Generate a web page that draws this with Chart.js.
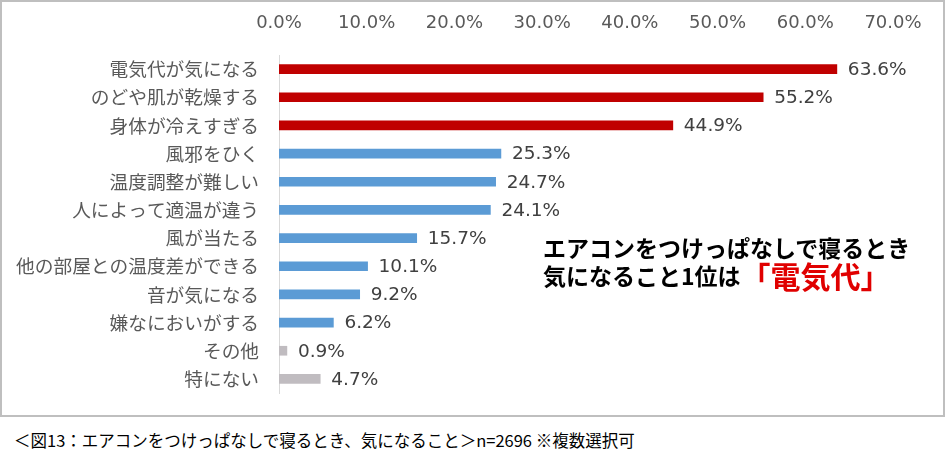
<!DOCTYPE html>
<html>
<head>
<meta charset="utf-8">
<script src="https://cdn.jsdelivr.net/npm/chart.js@4"></script>
<style>
  body { margin: 0; background: #fff; font-family: "Noto Sans CJK JP", sans-serif; }
  #box { position: absolute; left: 0; top: 0; width: 941px; height: 413px; border: 2px solid #bfbfbf; }
  #grafica { position: absolute; left: 0; top: 0; }
  .note { position: absolute; left: 541px; font-weight: bold; font-size: 23px; line-height: 30px; height: 30px; color: #000; white-space: nowrap; }
  .note .red { color: #e00000; font-size: 30px; line-height: 30px; vertical-align: top; }
  #caption { position: absolute; left: 14px; top: 428px; font-size: 16.5px; color: #000; white-space: nowrap; }
</style>
</head>
<body>
<div id="box">
  <canvas id="grafica" width="941" height="413"></canvas>
  <div class="note" style="top: 230px;">エアコンをつけっぱなしで寝るとき</div>
  <div class="note" style="top: 258px;">気になること1位は<span class="red">「電気代」</span></div>
</div>
<div id="caption">＜図13：エアコンをつけっぱなしで寝るとき、気になること＞n=2696 ※複数選択可</div>
<script>
const categorias = [
  "電気代が気になる", "のどや肌が乾燥する", "身体が冷えすぎる", "風邪をひく",
  "温度調整が難しい", "人によって適温が違う", "風が当たる", "他の部屋との温度差ができる",
  "音が気になる", "嫌なにおいがする", "その他", "特にない"
];
const valores = [63.6, 55.2, 44.9, 25.3, 24.7, 24.1, 15.7, 10.1, 9.2, 6.2, 0.9, 4.7];
const colores = [
  "#c00000", "#c00000", "#c00000",
  "#5b9bd5", "#5b9bd5", "#5b9bd5", "#5b9bd5", "#5b9bd5", "#5b9bd5", "#5b9bd5",
  "#c0bcc0", "#c0bcc0"
];
const ticksX = [0, 10, 20, 30, 40, 50, 60, 70];

const etiquetas = {
  id: "etiquetas",
  afterDatasetsDraw(chart) {
    const { ctx } = chart;
    ctx.save();
    ctx.font = "18.5px 'DejaVu Sans'";
    ctx.fillStyle = "#404040";
    ctx.textBaseline = "middle";
    chart.getDatasetMeta(0).data.forEach((bar, i) => {
      ctx.fillText(valores[i].toFixed(1) + "%", bar.x + 11, bar.y + 1);
    });
    ctx.restore();
  }
};

new Chart(document.getElementById("grafica"), {
  type: "bar",
  data: {
    labels: categorias,
    datasets: [{ data: valores, backgroundColor: colores, barThickness: 9 }]
  },
  options: {
    indexAxis: "y",
    responsive: false,
    animation: false,
    layout: { padding: { left: 0, right: 50, top: 0, bottom: 22 } },
    plugins: { legend: { display: false }, tooltip: { enabled: false } },
    scales: {
      x: {
        position: "top",
        min: 0,
        max: 70,
        afterBuildTicks(scale) { scale.ticks = ticksX.map((v) => ({ value: v })); },
        afterFit(scale) { scale.height = 53; },
        grid: { display: false, drawTicks: false },
        border: { display: false },
        ticks: {
          padding: 21,
          color: "#595959",
          font: { family: "DejaVu Sans", size: 18 },
          callback: (v) => v.toFixed(1) + "%"
        }
      },
      y: {
        afterFit(scale) {
          scale.width = 277;
          scale.paddingTop = 0;
          scale.paddingBottom = 0;
        },
        grid: { display: false, drawTicks: false },
        border: { display: true, color: "#d9d9d9", width: 1 },
        ticks: {
          padding: 20,
          color: "#595959",
          font: { family: "Noto Sans CJK JP", size: 18.7 }
        }
      }
    }
  },
  plugins: [etiquetas]
});
</script>
</body>
</html>
